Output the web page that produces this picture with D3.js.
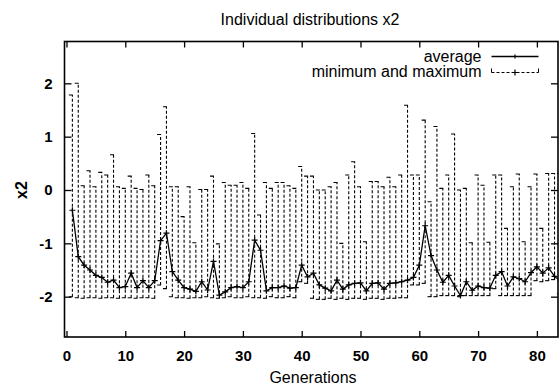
<!DOCTYPE html>
<html>
<head>
<meta charset="utf-8">
<script src="https://cdn.jsdelivr.net/npm/d3@7"></script>
<style>
  body { margin: 0; background: #fff; }
  svg { display: block; }
  text { font-family: "Liberation Sans", Arial, sans-serif; fill: #000; }
</style>
</head>
<body>
<svg id="chart" width="560" height="388"></svg>
<script>
// generation number of each sample
const generations = [1, 2, 3, 4, 5, 6, 7, 8, 9, 10, 11, 12, 13, 14, 15, 16, 17, 18, 19, 20,
  21, 22, 23, 24, 25, 26, 27, 28, 29, 30, 31, 32, 33, 34, 35, 36, 37, 38, 39, 40,
  41, 42, 43, 44, 45, 46, 47, 48, 49, 50, 51, 52, 53, 54, 55, 56, 57, 58, 59, 60,
  61, 62, 63, 64, 65, 66, 67, 68, 69, 70, 71, 72, 73, 74, 75, 76, 77, 78, 79, 80,
  81, 82, 83, 84];

const averageX2 = [-0.38, -1.25, -1.41, -1.5, -1.6, -1.64, -1.73, -1.69, -1.83, -1.81,
  -1.56, -1.83, -1.7, -1.83, -1.7, -0.95, -0.81, -1.53, -1.69, -1.83,
  -1.86, -1.9, -1.72, -1.875, -1.34, -1.97, -1.91, -1.83, -1.81, -1.83,
  -1.72, -0.94, -1.13, -1.89, -1.83, -1.83, -1.8, -1.84, -1.83, -1.41,
  -1.63, -1.56, -1.78, -1.84, -1.89, -1.69, -1.86, -1.78, -1.75, -1.74,
  -1.89, -1.75, -1.74, -1.86, -1.75, -1.74, -1.72, -1.69, -1.64, -1.41,
  -0.67, -1.23, -1.5, -1.73, -1.6, -1.8, -1.98, -1.72, -1.88, -1.8,
  -1.83, -1.84, -1.6, -1.53, -1.8, -1.63, -1.66, -1.72, -1.55, -1.44,
  -1.56, -1.46, -1.62, -1.71];

const minimumX2 = [-2.0, -2.02, -2.03, -2.02, -2.02, -2.03, -2.02, -2.02, -2.03, -2.02,
  -2.02, -2.03, -2.02, -2.02, -2.03, -1.78, -1.85, -2.0, -2.02, -2.02,
  -2.03, -2.02, -2.02, -2.0, -2.02, -2.03, -2.02, -2.0, -2.02, -2.02,
  -2.0, -2.02, -2.02, -2.03, -2.0, -2.02, -2.02, -2.0, -2.02, -1.72,
  -1.75, -2.03, -2.05, -2.05, -2.03, -2.05, -2.03, -2.05, -2.03, -2.03,
  -2.05, -2.03, -2.03, -2.05, -2.03, -2.03, -2.02, -2.02, -1.78, -1.78,
  -1.75, -2.0, -2.0, -1.98, -1.98, -1.98, -2.0, -1.98, -1.98, -1.98,
  -1.98, -1.98, -1.85, -1.98, -1.98, -1.98, -1.98, -1.98, -1.98, -1.7,
  -1.72, -1.7, -1.68, -1.95];

const maximumX2 = [1.78, 2.0, 0.08, 0.36, 0.06, 0.33, 0.28, 0.66, 0.06, 0.03,
  0.26, 0.03, 0.01, 0.28, 0.08, 1.04, 1.56, 0.06, 0.06, -0.5,
  0.06, -0.99, 0.01, 0.01, 0.26, -1.01, 0.14, 0.09, 0.09, 0.14,
  0.03, 1.06, -0.47, 0.14, 0.03, 0.14, 0.14, 0.08, 0.03, 0.44,
  0.26, 0.26, 0.0, 0.0, 0.06, 0.14, -1.0, 0.28, 0.53, 0.06,
  -0.97, 0.16, 0.16, 0.06, 0.24, 0.06, 0.28, 1.59, 0.28, 0.28,
  1.31, -0.22, 1.19, 0.03, 0.28, 1.05, 0.0, 0.03, -0.99, 0.28,
  0.09, -0.98, 0.28, 0.28, -0.72, 0.06, 0.3, -0.97, 0.06, 0.3,
  -0.72, 0.31, 0.31, 0.31];

const xTicks = [0, 10, 20, 30, 40, 50, 60, 70, 80];
const yTicks = [-2, -1, 0, 1, 2];
const legendLabels = ['average', 'minimum and maximum'];

const box = { left: 64.5, right: 558, top: 41.5, bottom: 337 };

const svg = d3.select('#chart');

const x = d3.scaleLinear().domain([-0.34, 83.59]).range([box.left, box.right]);
const y = d3.scaleLinear().domain([-2.756, 2.784]).range([box.bottom, box.top]);

svg.append('defs').append('clipPath').attr('id', 'plot-clip')
  .append('rect')
  .attr('x', box.left).attr('y', box.top)
  .attr('width', box.right - box.left).attr('height', box.bottom - box.top);

const rows = generations.map((g, i) => ({ g, avg: averageX2[i], lo: minimumX2[i], hi: maximumX2[i] }));

const plot = svg.append('g').attr('clip-path', 'url(#plot-clip)');

// min/max error bars, dashed, with small caps
const bars = plot.append('g').attr('class', 'bars')
  .selectAll('g').data(rows).enter().append('g');

bars.append('line')
  .attr('x1', d => x(d.g)).attr('x2', d => x(d.g))
  .attr('y1', d => y(d.lo)).attr('y2', d => y(d.hi))
  .attr('stroke', '#000').attr('stroke-width', 1.1)
  .attr('stroke-dasharray', '3,2');

bars.append('line')
  .attr('x1', d => x(d.g) - 3.5).attr('x2', d => x(d.g) + 0.5)
  .attr('y1', d => y(d.hi)).attr('y2', d => y(d.hi))
  .attr('stroke', '#000').attr('stroke-width', 1.1);

bars.append('line')
  .attr('x1', d => x(d.g) - 3.5).attr('x2', d => x(d.g) + 0.5)
  .attr('y1', d => y(d.lo)).attr('y2', d => y(d.lo))
  .attr('stroke', '#000').attr('stroke-width', 1.1);

// average line with + markers
const line = d3.line().x(d => x(d.g)).y(d => y(d.avg));
plot.append('path')
  .datum(rows)
  .attr('d', line)
  .attr('fill', 'none')
  .attr('stroke', '#000')
  .attr('stroke-width', 1.3);

function plus(sel, size) {
  sel.append('path')
    .attr('d', `M${-size},0H${size}M0,${-size}V${size}`)
    .attr('stroke', '#000').attr('stroke-width', 1.2).attr('fill', 'none');
}

plot.append('g').selectAll('g').data(rows).enter().append('g')
  .attr('transform', d => `translate(${x(d.g)},${y(d.avg)})`)
  .call(plus, 3);

// axes, ticks pointing inward on all four sides
const fmt = d => String(d);
const bottomAxis = svg.append('g')
  .attr('transform', `translate(0,${box.bottom})`)
  .call(d3.axisBottom(x).tickValues(xTicks).tickFormat(fmt).tickSizeInner(-6).tickSizeOuter(0).tickPadding(13));
const topAxis = svg.append('g')
  .attr('transform', `translate(0,${box.top})`)
  .call(d3.axisTop(x).tickValues(xTicks).tickSizeInner(-6).tickSizeOuter(0).tickFormat(''));
const leftAxis = svg.append('g')
  .attr('transform', `translate(${box.left},0)`)
  .call(d3.axisLeft(y).tickValues(yTicks).tickFormat(fmt).tickSizeInner(-7).tickSizeOuter(0).tickPadding(12));
const rightAxis = svg.append('g')
  .attr('transform', `translate(${box.right},0)`)
  .call(d3.axisRight(y).tickValues(yTicks).tickSizeInner(-7).tickSizeOuter(0).tickFormat(''));

[bottomAxis, topAxis, leftAxis, rightAxis].forEach(a => {
  a.select('.domain').remove();
  a.selectAll('line').attr('stroke', '#000').attr('stroke-width', 1.3);
  a.selectAll('text')
    .style('font-family', '"Liberation Sans", Arial, sans-serif')
    .style('font-size', '15px')
    .style('font-weight', 'bold')
    .attr('fill', '#000');
});

svg.append('rect')
  .attr('x', box.left).attr('y', box.top)
  .attr('width', box.right - box.left).attr('height', box.bottom - box.top)
  .attr('fill', 'none').attr('stroke', '#000').attr('stroke-width', 1.6);

// titles
svg.append('text')
  .attr('x', 310).attr('y', 25)
  .attr('text-anchor', 'middle')
  .style('font-size', '16px')
  .text('Individual distributions x2');

svg.append('text')
  .attr('x', 313).attr('y', 383)
  .attr('text-anchor', 'middle')
  .style('font-size', '16px')
  .text('Generations');

svg.append('text')
  .attr('transform', 'translate(27,190) rotate(-90)')
  .attr('text-anchor', 'middle')
  .style('font-size', '16px')
  .style('font-weight', 'bold')
  .text('x2');

// legend
const legend = svg.append('g');
const lx1 = 491.5, lx2 = 538.5;
legend.selectAll('text').data(legendLabels).enter().append('text')
  .attr('x', 481.5)
  .attr('y', (d, i) => 61.5 + i * 15.5)
  .attr('text-anchor', 'end')
  .style('font-size', '16px')
  .text(d => d);

legend.append('line')
  .attr('x1', lx1).attr('x2', lx2).attr('y1', 56.5).attr('y2', 56.5)
  .attr('stroke', '#000').attr('stroke-width', 1.3);
legend.append('g').attr('transform', `translate(${(lx1 + lx2) / 2},56.5)`).call(plus, 2);

legend.append('line')
  .attr('x1', lx1).attr('x2', lx2).attr('y1', 72.5).attr('y2', 72.5)
  .attr('stroke', '#000').attr('stroke-width', 1).attr('stroke-dasharray', '3,2');
[lx1, lx2].forEach(px => {
  legend.append('line')
    .attr('x1', px).attr('x2', px).attr('y1', 68.5).attr('y2', 72.5)
    .attr('stroke', '#000').attr('stroke-width', 1);
});
legend.append('g').attr('transform', `translate(${(lx1 + lx2) / 2},72.5)`).call(plus, 3);
</script>
</body>
</html>
